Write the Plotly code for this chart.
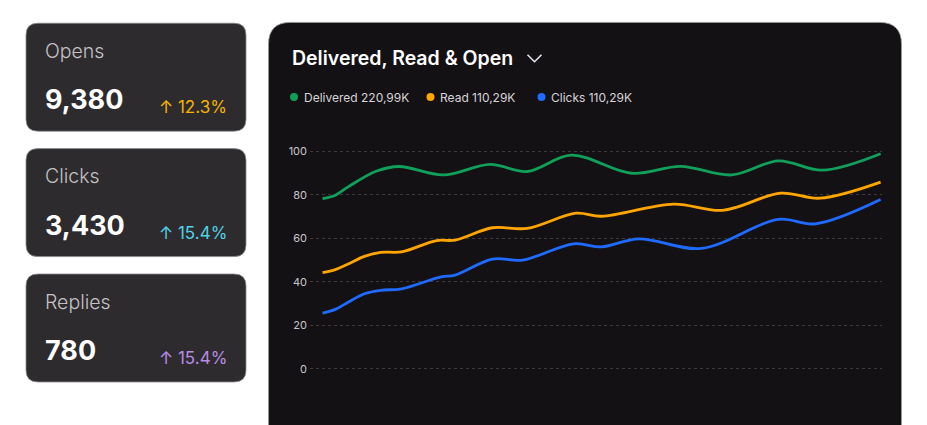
import plotly.graph_objects as go

W, H = 927, 425

# ---- data (x in days) ----
delivered_x = [0, 0.55, 1.1, 2.3, 3.3, 5.2, 7.2, 8.8, 10.7, 13.3, 15.4, 17.6, 19.6, 21.5, 24]
delivered_y = [78.3, 79.9, 83.7, 90.9, 93.1, 89.2, 94.1, 90.8, 98.3, 90.0, 93.2, 89.2, 95.7, 91.4, 99.0]
read_x = [0, 0.55, 1.1, 1.8, 2.5, 3.4, 4.9, 5.7, 7.3, 8.8, 10.9, 12.0, 15.1, 17.2, 19.7, 21.4, 24]
read_y = [44.2, 45.6, 48.2, 51.7, 53.6, 53.8, 59.0, 59.2, 64.9, 64.6, 71.6, 70.2, 75.8, 72.9, 80.8, 78.5, 85.9]
clicks_x = [0, 0.55, 1.1, 1.8, 2.5, 3.4, 5.1, 5.7, 7.3, 8.6, 10.8, 12.0, 13.6, 16.3, 19.6, 21.2, 24]
clicks_y = [25.6, 27.3, 30.6, 34.5, 36.1, 36.8, 42.3, 43.1, 50.5, 50.0, 57.5, 56.1, 59.8, 55.4, 68.8, 66.7, 77.9]

series_names = ["Delivered", "Read", "Clicks"]
series_totals = ["220,99K", "110,29K", "110,29K"]
series_colors = ["#10a05a", "#ffa500", "#1f6bff"]
y_ticks = [0, 20, 40, 60, 80, 100]

card_labels = ["Opens", "Clicks", "Replies"]
card_values = ["9,380", "3,430", "780"]
card_changes = ["12.3%", "15.4%", "15.4%"]
card_colors = ["#f5b400", "#4fd3e6", "#b98be6"]

FONT = "Inter"


def px(x):
    return x / W


def py(y):
    return 1 - y / H


def rrect(x0, y0, x1, y1, r, bottom_round=True):
    p = [f"M {px(x0 + r)},{py(y0)}",
         f"L {px(x1 - r)},{py(y0)}",
         f"Q {px(x1)},{py(y0)} {px(x1)},{py(y0 + r)}"]
    if bottom_round:
        p += [f"L {px(x1)},{py(y1 - r)}",
              f"Q {px(x1)},{py(y1)} {px(x1 - r)},{py(y1)}",
              f"L {px(x0 + r)},{py(y1)}",
              f"Q {px(x0)},{py(y1)} {px(x0)},{py(y1 - r)}"]
    else:
        p += [f"L {px(x1)},{py(y1)}", f"L {px(x0)},{py(y1)}"]
    p += [f"L {px(x0)},{py(y0 + r)}",
          f"Q {px(x0)},{py(y0)} {px(x0 + r)},{py(y0)}", "Z"]
    return " ".join(p)


fig = go.Figure()
for name, xs, ys, col in zip(series_names,
                             [delivered_x, read_x, clicks_x],
                             [delivered_y, read_y, clicks_y],
                             series_colors):
    fig.add_trace(go.Scatter(
        x=xs, y=ys, mode="lines", name=name,
        line=dict(color=col, width=2.8, shape="spline", smoothing=1.0),
        showlegend=False, hoverinfo="skip"))

shapes = []
annotations = []

# chart card
shapes.append(dict(type="path", xref="paper", yref="paper", layer="below",
                   path=rrect(268.5, 22.5, 901.5, 440, 22, bottom_round=False),
                   fillcolor="#141115", line=dict(color="#9a9a9a", width=0.8)))

# KPI cards
card_tops = [23.3, 149.3, 275.3]
card_h = 108.5
for i, top in enumerate(card_tops):
    shapes.append(dict(type="path", xref="paper", yref="paper", layer="below",
                       path=rrect(26, top, 246, top + card_h, 12),
                       fillcolor="#2d2b2e", line=dict(color="#8a898b", width=0.8)))
    annotations.append(dict(xref="paper", yref="paper", x=px(43), y=py(top + 28),
                            xanchor="left", yanchor="middle", showarrow=False,
                            text=card_labels[i],
                            font=dict(family=FONT, size=19.5, color="#c4c2c5", weight=300)))
    annotations.append(dict(xref="paper", yref="paper", x=px(42.5), y=py(top + 77),
                            xanchor="left", yanchor="middle", showarrow=False,
                            text=card_values[i],
                            font=dict(family=FONT, size=27, color="#ffffff", weight=700)))
    annotations.append(dict(xref="paper", yref="paper", x=px(228.5), y=py(top + 84.5),
                            xanchor="right", yanchor="middle", showarrow=False,
                            text="↑ " + card_changes[i],
                            font=dict(family=FONT, size=17, color=card_colors[i])))

# title + chevron
annotations.append(dict(xref="paper", yref="paper", x=px(290), y=py(58.5),
                        xanchor="left", yanchor="middle", showarrow=False,
                        text="Delivered, Read &amp; Open",
                        font=dict(family=FONT, size=19.5, color="#ffffff", weight=600)))
shapes.append(dict(type="path", xref="paper", yref="paper",
                   path=f"M {px(527.5)},{py(55)} L {px(534.5)},{py(62)} L {px(541.5)},{py(55)}",
                   line=dict(color="#e6e6e6", width=1.6)))

# legend (dots + text)
leg_dot_x = [294, 430.5, 541.5]
for i in range(3):
    r = 4
    shapes.append(dict(type="circle", xref="paper", yref="paper",
                       x0=px(leg_dot_x[i] - r), x1=px(leg_dot_x[i] + r),
                       y0=py(97.5 + r), y1=py(97.5 - r),
                       fillcolor=series_colors[i], line=dict(width=0)))
    annotations.append(dict(xref="paper", yref="paper", x=px(leg_dot_x[i] + 7.5), y=py(97.5),
                            xanchor="left", yanchor="middle", showarrow=False,
                            text=f"{series_names[i]} {series_totals[i]}",
                            font=dict(family=FONT, size=12, color="#d6d4d7")))

fig.update_layout(
    width=W, height=H,
    margin=dict(l=0, r=0, t=0, b=0),
    paper_bgcolor="#ffffff",
    plot_bgcolor="rgba(0,0,0,0)",
    shapes=shapes,
    annotations=annotations,
    xaxis=dict(domain=[310 / W, 882 / W], range=[-0.54, 24.06],
               showgrid=False, zeroline=False, showticklabels=False,
               showline=False, fixedrange=True),
    yaxis=dict(domain=[1 - 374.8 / H, 1 - 143.5 / H], range=[-2, 104],
               tickvals=y_ticks, ticktext=[str(v) for v in y_ticks],
               showgrid=True, gridcolor="#3c3a3d", griddash="3px,3px", gridwidth=1,
               zeroline=False, showline=False, ticks="",
               ticklabelstandoff=2,
               tickfont=dict(family=FONT, size=11, color="#c8c6c9"),
               fixedrange=True),
    font=dict(family=FONT),
)

fig.write_html("out.html", config={"displayModeBar": False},
               post_script="document.body.style.margin='0';document.body.style.overflow='hidden';")
